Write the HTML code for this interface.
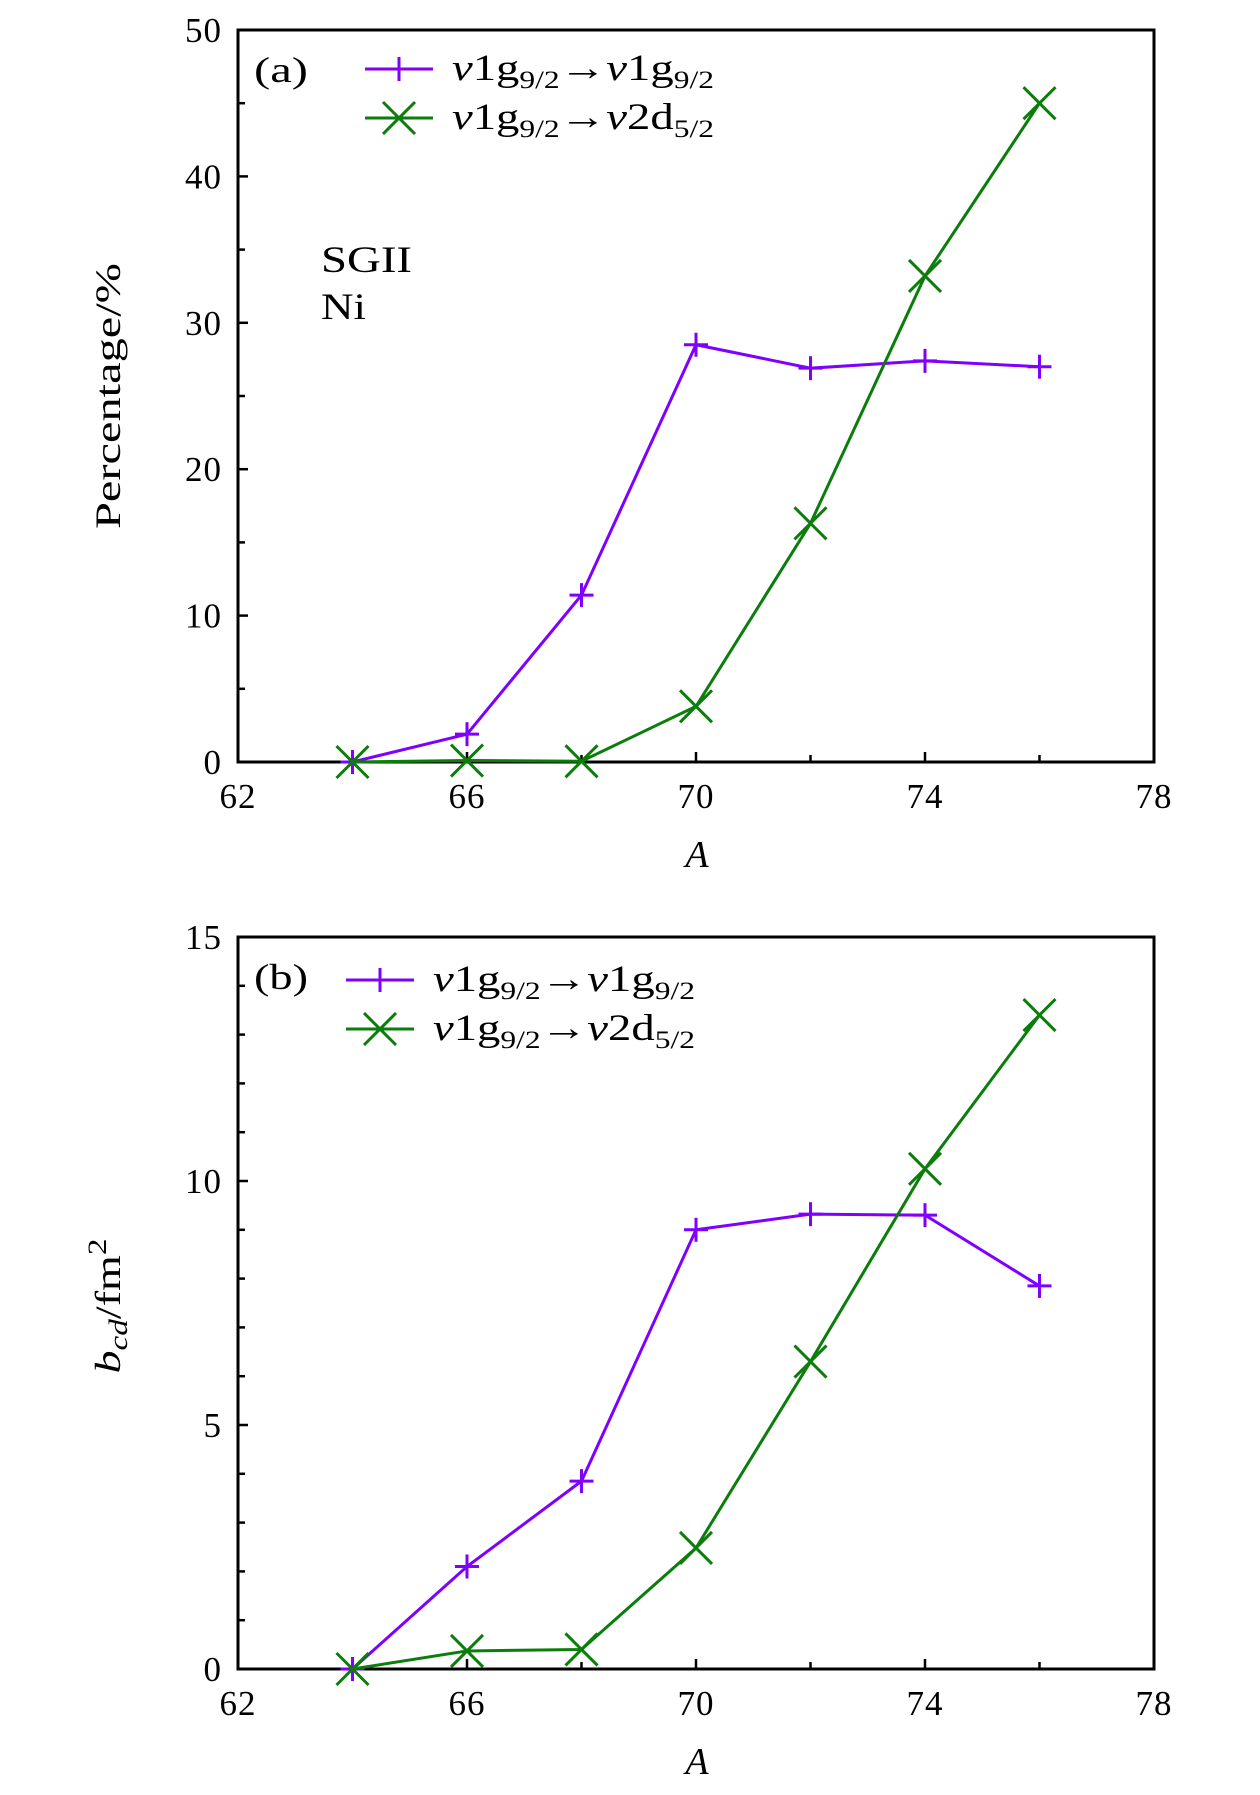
<!DOCTYPE html>
<html><head><meta charset="utf-8"><style>
html,body{margin:0;padding:0;background:#fff;}
svg{display:block;}
text{font-family:"Liberation Serif",serif;fill:#000;}
</style></head><body>
<svg id="chart" width="1260" height="1795" viewBox="0 0 1260 1795" xmlns="http://www.w3.org/2000/svg">
<g id="pa"></g>
<g id="pb"></g>
</svg>
<script>
const massNumbers = [64, 66, 68, 70, 72, 74, 76];
const pctG9G9 = [0, 1.9, 11.4, 28.5, 26.9, 27.4, 27.0];
const pctG9D5 = [0, 0.1, 0.05, 3.8, 16.3, 33.2, 45.0];
const bcdG9G9 = [0, 2.1, 3.85, 9.0, 9.32, 9.3, 7.85];
const bcdG9D5 = [0, 0.37, 0.4, 2.48, 6.3, 10.25, 13.4];
const xTickLabels = [62, 66, 70, 74, 78];
const yTicksA = [0, 10, 20, 30, 40, 50];
const yTicksB = [0, 5, 10, 15];

const NS = "http://www.w3.org/2000/svg";
const PURPLE = "#7f00ff", GREEN = "#0a7d0a";
function mk(parent, tag, attrs, txt) {
  const e = document.createElementNS(NS, tag);
  for (const k in attrs) e.setAttribute(k, attrs[k]);
  if (txt !== undefined) e.textContent = txt;
  parent.appendChild(e);
  return e;
}
const L = 238, R = 1154;
const xs = v => L + (v - 62) / 16 * (R - L);

function panel(g, top, bottom, ymax, yMajor, minorStep, s1, s2, label, legX, legY, ytitleHTML, ytitleY, ytitleLen, tag) {
  const ys = v => bottom - v / ymax * (bottom - top);
  for (let v = 62; v <= 78; v += 2) {
    const major = (v - 62) % 4 === 0;
    const t = mk(g, "line", {x1: xs(v), x2: xs(v), y1: bottom, y2: bottom - (major ? 10 : 7), stroke: "#000", "stroke-width": 2.5});
    
    
  }
  for (let v = 0; v <= ymax + 1e-9; v += minorStep) {
    const major = yMajor.some(m => Math.abs(m - v) < 1e-9);
    const t = mk(g, "line", {x1: L, x2: L + (major ? 10 : 7), y1: ys(v), y2: ys(v), stroke: "#000", "stroke-width": 2.5});
    
    
  }
  const fr = mk(g, "rect", {x: L, y: top, width: R - L, height: bottom - top, fill: "none", stroke: "#000", "stroke-width": 3});
  
  
  xTickLabels.forEach(v => {
    const t = mk(g, "text", {x: xs(v), y: bottom + 46, "font-size": 35, "letter-spacing": 1, "text-anchor": "middle"}, String(v));
    
    
  });
  yMajor.forEach(v => {
    const t = mk(g, "text", {x: L - 16, y: ys(v) + 12, "font-size": 35, "letter-spacing": 1, "text-anchor": "end"}, String(v));
    
    
  });
  const xt = mk(g, "text", {x: 697, y: bottom + 105, "font-size": 38, "font-style": "italic", "text-anchor": "middle"}, "A");
  
  
  const yt = mk(g, "text", {x: 0, y: 0, "font-size": 36, "text-anchor": "middle", textLength: ytitleLen, lengthAdjust: "spacingAndGlyphs", transform: `translate(120,${ytitleY}) rotate(-90)`});
  yt.innerHTML = ytitleHTML;
  
  
  const pl = mk(g, "text", {x: 254, y: top + 52, "font-size": 36, textLength: 54, lengthAdjust: "spacingAndGlyphs"}, label);
  
  

  function series(vals, color, marker, name) {
    const sg = mk(g, "g", {});
    
    
    const pts = massNumbers.map((a, i) => xs(a) + "," + ys(vals[i])).join(" ");
    const pline = mk(sg, "polyline", {points: pts, fill: "none", stroke: color, "stroke-width": 3});
    
    
    massNumbers.forEach((a, i) => {
      const m = drawMarker(sg, xs(a), ys(vals[i]), color, marker);
      
      
    });
  }
  series(s1, PURPLE, "plus", tag + "-series-g9-g9");
  series(s2, GREEN, "cross", tag + "-series-g9-d5");

  const entries = [
    {color: PURPLE, marker: "plus", html: 'v1g<tspan font-size="25" dy="8">9/2</tspan><tspan dy="-8">→v1g</tspan><tspan font-size="25" dy="8">9/2</tspan>'},
    {color: GREEN, marker: "cross", html: 'v1g<tspan font-size="25" dy="8">9/2</tspan><tspan dy="-8">→v2d</tspan><tspan font-size="25" dy="8">5/2</tspan>'}
  ];
  entries.forEach((en, i) => {
    const y = legY + i * 49;
    const lg = mk(g, "g", {});
    
    
    mk(lg, "line", {x1: legX, x2: legX + 68, y1: y, y2: y, stroke: en.color, "stroke-width": 3});
    drawMarker(lg, legX + 34, y, en.color, en.marker);
    const t = mk(lg, "text", {x: legX + 87, y: y + 11, "font-size": 37, textLength: 262, lengthAdjust: "spacingAndGlyphs"});
    t.innerHTML = en.html.replace(/v/g, '<tspan font-style="italic">v</tspan>');
  });
}
function drawMarker(parent, cx, cy, color, kind) {
  const m = mk(parent, "g", {stroke: color, "stroke-width": 3});
  if (kind === "plus") {
    mk(m, "line", {x1: cx - 12, x2: cx + 12, y1: cy, y2: cy});
    mk(m, "line", {x1: cx, x2: cx, y1: cy - 12, y2: cy + 12});
  } else {
    mk(m, "line", {x1: cx - 16, x2: cx + 16, y1: cy - 16, y2: cy + 16});
    mk(m, "line", {x1: cx - 16, x2: cx + 16, y1: cy + 16, y2: cy - 16});
  }
  return m;
}
panel(document.getElementById("pa"), 30, 762, 50, yTicksA, 5, pctG9G9, pctG9D5, "(a)", 365, 69,
  'Percentage/%', 396, 266, "a");
panel(document.getElementById("pb"), 937, 1669, 15, yTicksB, 1, bcdG9G9, bcdG9D5, "(b)", 346, 980,
  '<tspan font-style="italic">b</tspan><tspan font-style="italic" font-size="26" dy="7">cd</tspan><tspan dy="-7">/fm</tspan><tspan font-size="26" dy="-14">2</tspan>', 1306, 135, "b");
const pa = document.getElementById("pa");
const s1 = mk(pa, "text", {x: 321, y: 272, "font-size": 37, textLength: 91, lengthAdjust: "spacingAndGlyphs"}, "SGII");


const s2 = mk(pa, "text", {x: 321, y: 319, "font-size": 37, textLength: 45, lengthAdjust: "spacingAndGlyphs"}, "Ni");


</script>
</body></html>
